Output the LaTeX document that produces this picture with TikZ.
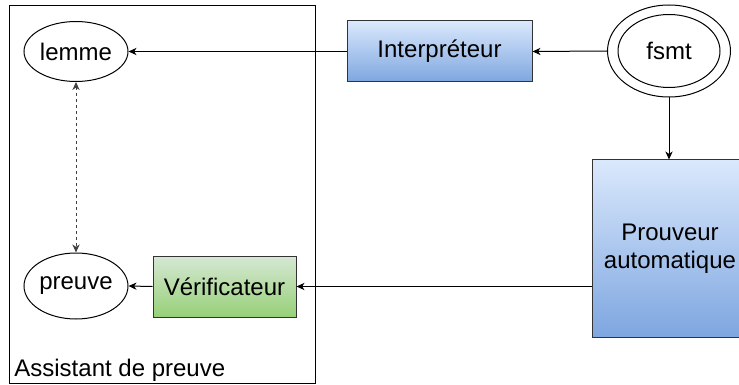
\documentclass[tikz,border=0pt]{standalone}
\usepackage{fontspec}
\setmainfont{Liberation Sans}
\usetikzlibrary{shapes.geometric,arrows.meta}
\definecolor{bluetop}{HTML}{DAE8FC}
\definecolor{bluebot}{HTML}{7EA6E0}
\definecolor{greentop}{HTML}{D5E8D4}
\definecolor{greenbot}{HTML}{97D077}
\definecolor{edge}{HTML}{333333}
\tikzset{
  every node/.style={font=\fontsize{12}{14}\selectfont, inner sep=0pt},
  ell/.style={ellipse, draw=black, line width=0.5pt},
  bluebox/.style={rectangle, draw=edge, line width=0.5pt, top color=bluetop, bottom color=bluebot},
  greenbox/.style={rectangle, draw=edge, line width=0.5pt, top color=greentop, bottom color=greenbot},
  conn/.style={line width=0.5pt, draw=black, -{Stealth[length=4pt,width=3.6pt,inset=1.2pt]}},
  dotconn/.style={line width=0.5pt, draw=black!75, dash pattern=on 1.5pt off 1.5pt,
    {Stealth[length=4pt,width=3.6pt,inset=1.2pt]}-{Stealth[length=4pt,width=3.6pt,inset=1.2pt]}}
}
\begin{document}
\begin{tikzpicture}[x=0.5pt,y=-0.5pt]
\useasboundingbox (0,0) rectangle (739,385);
% container
\node[draw=black, line width=0.5pt, minimum width=153pt, minimum height=188.5pt] (assist) at (162,194.5) {};
\node[anchor=base west] (assistlabel) at (14,376) {Assistant de preuve};
% nodes
\node[ell, minimum width=52pt, minimum height=30pt] (lemme) at (76,51.5) {lemme};
\node[ell, minimum width=52pt, minimum height=33pt] (preuve) at (76,286) {preuve};
\node[bluebox, minimum width=92.5pt, minimum height=30.5pt] (interp) at (439.5,51.5) {Interpréteur};
\node[ell, minimum width=61.5pt, minimum height=46pt] (fsmt) at (669,51) {};
\node[ell, minimum width=51pt, minimum height=36.5pt] (fsmtin) at (669,51) {fsmt};
\node[greenbox, minimum width=71.5pt, minimum height=30.5pt] (verif) at (224.5,286.5) {Vérificateur};
\node[bluebox, minimum width=78pt, minimum height=88.5pt, align=center] (prouv) at (670,248.5) {Prouveur\\automatique};
% connectors
\draw[conn] (interp.west) -- (lemme.east);
\draw[conn] (fsmt.west) -- (interp.east);
\draw[conn] (fsmt.south) -- (prouv.north -| fsmt.south);
\draw[conn] (prouv.west |- verif.east) -- (verif.east);
\draw[conn] (verif.west) -- (preuve.east);
\draw[dotconn] (lemme.south) -- (preuve.north);
\end{tikzpicture}
\end{document}
